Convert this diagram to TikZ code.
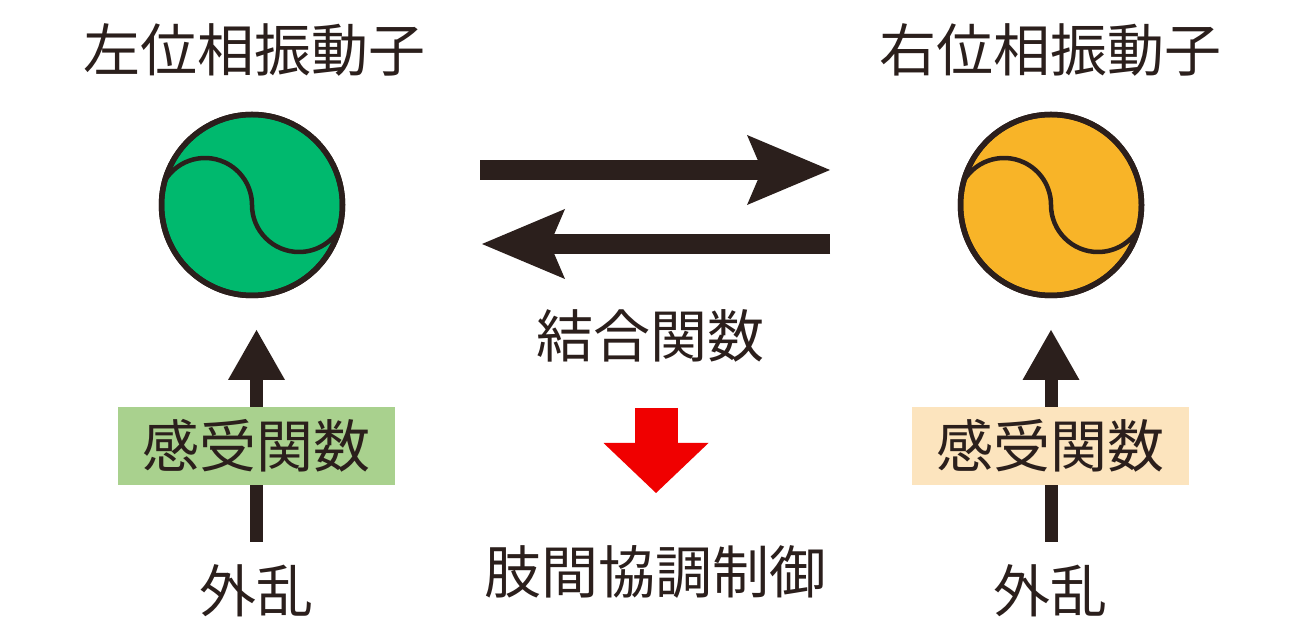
\documentclass[tikz,border=0pt]{standalone}
\usepackage{fontspec}
\setmainfont{Noto Sans CJK JP}
\usetikzlibrary{arrows.meta}
\definecolor{ink}{RGB}{43,31,28}
\definecolor{oscgreen}{RGB}{0,185,110}
\definecolor{oscorange}{RGB}{248,180,40}
\definecolor{boxgreen}{RGB}{169,209,142}
\definecolor{boxorange}{RGB}{252,228,190}
\definecolor{redarrow}{RGB}{240,0,0}
\begin{document}
\begin{tikzpicture}[x=1pt,y=1pt,
  lbl/.style={inner sep=0pt,text=ink,font=\fontsize{57}{60}\selectfont},
  osc/.style={circle,draw=ink,line width=5.5pt,minimum size=181pt,inner sep=0pt},
  fnbox/.style={lbl,minimum width=277pt,minimum height=78pt},
  bigarrow/.style={draw=ink,line width=20pt,-{Stealth[length=83pt,width=70pt,inset=15pt,line width=0pt]}},
  uparrow/.style={draw=ink,line width=13pt,-{Triangle[length=50pt,width=57pt,line width=0pt]}},
  redarr/.style={draw=redarrow,line width=43pt,-{Triangle[length=50pt,width=105pt,line width=0pt]}}]
\useasboundingbox (0,0) rectangle (1300,628);
\fill[white] (0,0) rectangle (1300,628);

% titles
\node[lbl] (tl) at (254,578) {左位相振動子};
\node[lbl] (tr) at (1050,578) {右位相振動子};

% oscillators
\node[osc,fill=oscgreen] (lc) at (252,423) {};
\node[osc,fill=oscorange] (rc) at (1051,423) {};
\foreach \c in {lc,rc}{
  \begin{scope}
    \clip (\c) circle (90pt);
    \draw[ink,line width=4.5pt] (\c) ++(-47,0) ++(155:47) arc[start angle=155,end angle=0,radius=47]
      arc[start angle=180,end angle=335,radius=47];
  \end{scope}
  \draw[ink,line width=5.5pt] (\c) circle (90.5pt);
}

% coupling arrows
\coordinate (a1s) at (480,458);
\coordinate (a1e) at (830,458);
\coordinate (a2s) at (830,384);
\coordinate (a2e) at (482,384);
\draw[bigarrow] (a1s) -- (a1e);
\draw[bigarrow] (a2s) -- (a2e);

\node[lbl] (cf) at (650,292) {結合関数};

% red arrow
\coordinate (rs) at (656,220);
\coordinate (re) at (656,135);
\draw[redarr] (rs) -- (re);

\node[lbl] (lim) at (655,56) {肢間協調制御};

% disturbances and sensory functions
\node[lbl] (dl) at (256,37) {外乱};
\node[lbl] (dr) at (1050,37) {外乱};
\coordinate (dlt) at (256.5,86);
\coordinate (drt) at (1051,86);
\coordinate (alt) at (256.5,298);
\coordinate (art) at (1051,298);
\draw[uparrow] (dlt) -- (alt);
\draw[uparrow] (drt) -- (art);
\node[fnbox,fill=boxgreen] (sl) at (256.5,182) {感受関数};
\node[fnbox,fill=boxorange] (sr) at (1050,182) {感受関数};
\end{tikzpicture}
\end{document}
